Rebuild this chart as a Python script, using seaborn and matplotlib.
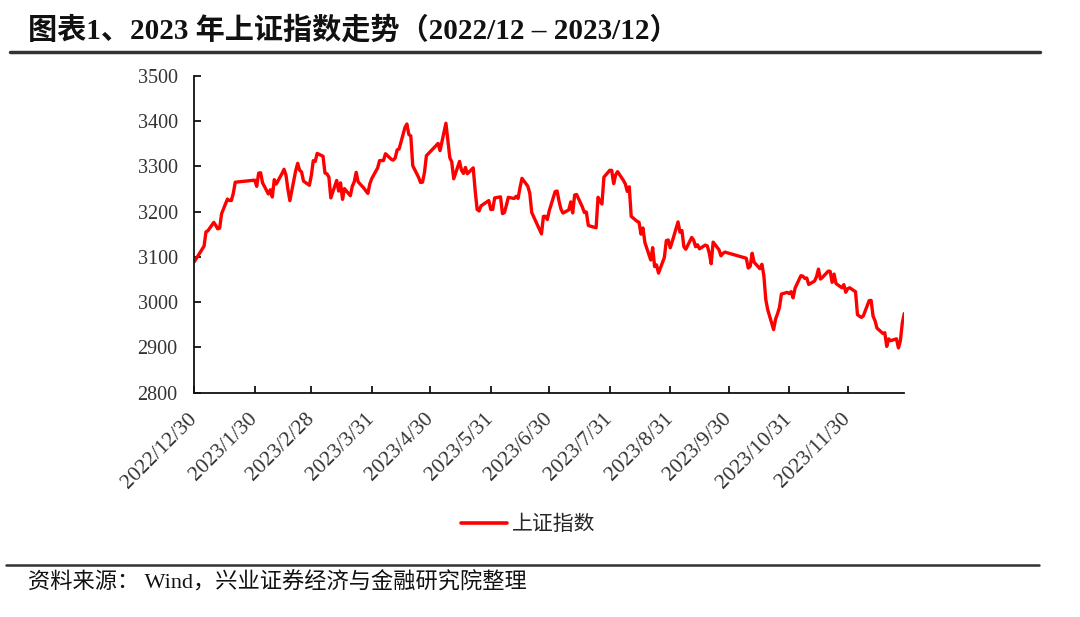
import pandas as pd
import matplotlib
matplotlib.use('Agg')
import matplotlib.pyplot as plt
from matplotlib.lines import Line2D
import seaborn as sns

# SSE Composite daily close (2022/12/30 - 2023/12/29)
start_date = '2022-12-30'
start_close = 3089.26

jan_days = [3, 4, 5, 6, 9, 10, 11, 12, 13, 16, 17, 18, 19, 20, 30, 31]
jan_close = [3116.51, 3123.52, 3155.22, 3157.64, 3176.08, 3169.51, 3161.84, 3163.45, 3195.31, 3227.59,
             3224.24, 3224.41, 3240.28, 3264.81, 3269.32, 3255.67]
feb_days = [1, 2, 3, 6, 7, 8, 9, 10, 13, 14, 15, 16, 17, 20, 21, 22, 23, 24, 27, 28]
feb_close = [3284.92, 3285.67, 3263.41, 3238.70, 3248.09, 3232.11, 3270.38, 3260.67, 3284.16, 3293.28,
             3280.49, 3249.03, 3224.02, 3290.34, 3306.52, 3291.16, 3287.48, 3267.16, 3258.03, 3279.61]
mar_days = [1, 2, 3, 6, 7, 8, 9, 10, 13, 14, 15, 16, 17, 20, 21, 22, 23, 24, 27, 28, 29, 30, 31]
mar_close = [3312.35, 3310.65, 3328.39, 3322.03, 3285.10, 3283.25, 3276.09, 3230.08, 3268.70, 3245.31,
             3263.31, 3226.89, 3250.55, 3234.91, 3255.65, 3265.75, 3286.65, 3265.65, 3251.40, 3245.38,
             3240.06, 3261.25, 3272.86]
apr_days = [3, 4, 6, 7, 10, 11, 12, 13, 14, 17, 18, 19, 20, 21, 24, 25, 26, 27, 28]
apr_close = [3296.40, 3312.56, 3312.63, 3327.65, 3315.36, 3313.57, 3318.36, 3336.15, 3338.15, 3385.61,
             3393.33, 3370.13, 3367.03, 3301.26, 3275.41, 3264.10, 3264.87, 3285.88, 3323.27]
may_days = [4, 5, 8, 9, 10, 11, 12, 15, 16, 17, 18, 19, 22, 23, 24, 25, 26, 29, 30, 31]
may_close = [3350.46, 3334.50, 3395.00, 3357.67, 3319.15, 3309.55, 3272.36, 3310.74, 3290.99, 3284.23,
             3297.32, 3283.54, 3296.47, 3246.24, 3204.75, 3201.26, 3212.50, 3221.45, 3224.21, 3204.56]
jun_days = [1, 2, 5, 6, 7, 8, 9, 12, 13, 14, 15, 16, 19, 20, 21, 26, 27, 28, 29, 30]
jun_close = [3204.63, 3230.07, 3232.44, 3195.34, 3197.90, 3213.59, 3231.41, 3228.83, 3233.67, 3228.91,
             3252.98, 3273.33, 3255.81, 3240.36, 3197.90, 3150.62, 3189.38, 3189.44, 3182.38, 3202.06]
jul_days = [3, 4, 5, 6, 7, 10, 11, 12, 13, 14, 17, 18, 19, 20, 21, 24, 25, 26, 27, 28, 31]
jul_close = [3243.98, 3245.35, 3222.95, 3205.23, 3196.61, 3203.70, 3221.37, 3196.94, 3236.48, 3237.70,
             3209.63, 3197.82, 3198.84, 3169.52, 3167.75, 3164.16, 3231.52, 3223.03, 3216.67, 3275.93,
             3291.04]
aug_days = [1, 2, 3, 4, 7, 8, 9, 10, 11, 14, 15, 16, 17, 18, 21, 22, 23, 24, 25, 28, 29, 30, 31]
aug_close = [3290.95, 3261.69, 3280.46, 3288.08, 3268.83, 3260.62, 3244.49, 3254.56, 3189.25, 3178.43,
             3176.18, 3150.13, 3163.74, 3131.95, 3092.98, 3120.33, 3078.40, 3082.24, 3064.07, 3098.64,
             3135.89, 3137.14, 3119.88]
sep_days = [1, 4, 5, 6, 7, 8, 11, 12, 13, 14, 15, 18, 19, 20, 21, 22, 25, 26, 27, 28]
sep_close = [3133.25, 3177.06, 3154.37, 3158.08, 3122.35, 3116.72, 3142.78, 3137.06, 3122.36, 3126.55,
             3117.74, 3125.93, 3124.04, 3108.57, 3084.70, 3132.43, 3115.61, 3102.27, 3107.32, 3110.48]
oct_days = [9, 10, 11, 12, 13, 16, 17, 18, 19, 20, 23, 24, 25, 26, 27, 30, 31]
oct_close = [3096.85, 3075.24, 3078.96, 3107.90, 3088.10, 3073.81, 3083.50, 3058.71, 3005.39, 2983.06,
             2939.29, 2962.24, 2974.11, 2988.30, 3017.78, 3021.55, 3018.77]
nov_days = [1, 2, 3, 6, 7, 8, 9, 10, 13, 14, 15, 16, 17, 20, 21, 22, 23, 24, 27, 28, 29, 30]
nov_close = [3023.08, 3009.41, 3030.80, 3058.41, 3057.27, 3052.37, 3053.28, 3038.97, 3046.53, 3056.07,
             3072.83, 3050.93, 3054.37, 3068.32, 3067.93, 3043.61, 3061.86, 3040.97, 3031.70, 3038.55,
             3021.69, 3029.67]
dec_days = [1, 4, 5, 6, 7, 8, 11, 12, 13, 14, 15, 18, 19, 20, 21, 22, 25, 26, 27, 28, 29]
dec_close = [3031.64, 3022.91, 2972.30, 2968.93, 2966.21, 2969.56, 3003.35, 3003.61, 2968.76, 2958.99,
             2942.56, 2930.80, 2932.39, 2902.11, 2918.72, 2914.78, 2918.81, 2898.76, 2914.61, 2954.70,
             2974.93]

tick_dates = ['2022-12-30', '2023-01-30', '2023-02-28', '2023-03-31', '2023-04-30', '2023-05-31',
              '2023-06-30', '2023-07-31', '2023-08-31', '2023-09-30', '2023-10-31', '2023-11-30']
tick_labels = ['2022/12/30', '2023/1/30', '2023/2/28', '2023/3/31', '2023/4/30', '2023/5/31',
               '2023/6/30', '2023/7/31', '2023/8/31', '2023/9/30', '2023/10/31', '2023/11/30']

title = '图表1、2023 年上证指数走势（2022/12 – 2023/12）'
source = '资料来源： Wind，兴业证券经济与金融研究院整理'
series_name = '上证指数'

# build long table
months = [jan_days, feb_days, mar_days, apr_days, may_days, jun_days,
          jul_days, aug_days, sep_days, oct_days, nov_days, dec_days]
closes = [jan_close, feb_close, mar_close, apr_close, may_close, jun_close,
          jul_close, aug_close, sep_close, oct_close, nov_close, dec_close]
dates = [pd.Timestamp(start_date)]
values = [start_close]
for m, (days, vals) in enumerate(zip(months, closes), start=1):
    dates += [pd.Timestamp(2023, m, d) for d in days]
    values += vals
df = pd.DataFrame({'date': dates, 'close': values})

sns.set_style('ticks')
plt.rcParams['font.family'] = ['Liberation Serif', 'Noto Sans CJK SC', 'DejaVu Sans']

fig = plt.figure(figsize=(10.8, 6.17), dpi=100)
ax = fig.add_axes([0.1799, 0.3636, 0.6574, 0.5137])

sns.lineplot(data=df, x='date', y='close', color='#ff0000', linewidth=2.4, ax=ax, legend=False)

ax.set_xlim(pd.Timestamp('2022-12-30'), pd.Timestamp('2023-12-29'))
ax.set_ylim(2800, 3500)
ax.set_yticks(range(2800, 3501, 100))
ax.set_xticks(pd.to_datetime(tick_dates))
ax.set_xticklabels(tick_labels, rotation=45, ha='right', va='center', rotation_mode='anchor', fontsize=15.5)
ax.set_xlabel('')
ax.set_ylabel('')
sns.despine(ax=ax)
for side in ['left', 'bottom']:
    ax.spines[side].set_linewidth(1.3)
    ax.spines[side].set_color('#111111')
ax.tick_params(axis='both', direction='in', length=5, width=1.3, colors='#111111')
ax.tick_params(axis='y', pad=12, labelsize=14.5)
ax.tick_params(axis='x', pad=17)
for lab in ax.get_xticklabels() + ax.get_yticklabels():
    lab.set_color('#333333')

handle = Line2D([], [], color='#ff0000', linewidth=2.6)
fig.legend([handle], [series_name], loc='center', bbox_to_anchor=(0.489, 0.151), frameon=False,
           handlelength=2.2, handletextpad=0.25, prop={'family': ['Noto Sans CJK SC'], 'size': 15})

fig.text(0.026, 0.951, title, fontsize=21, fontweight='bold', va='center', color='#111111')
fig.add_artist(Line2D([0.009, 0.963], [0.9157, 0.9157], linewidth=2.5, color='#333333'))
fig.add_artist(Line2D([0.006, 0.962], [0.0843, 0.0843], linewidth=1.8, color='#333333'))
fig.text(0.026, 0.055, source, fontsize=16, va='center', color='#111111')

fig.savefig('out.png', dpi=100)
